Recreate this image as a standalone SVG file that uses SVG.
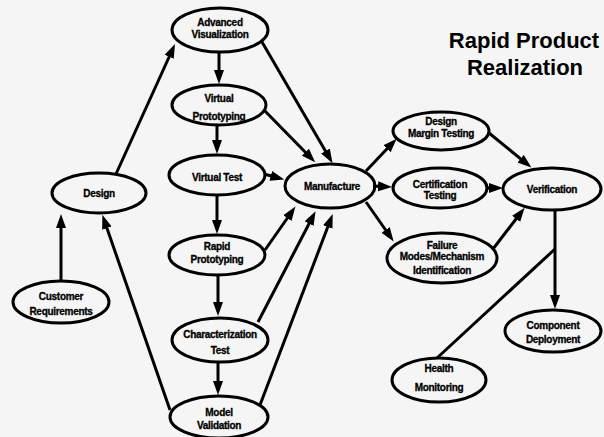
<svg xmlns="http://www.w3.org/2000/svg" width="604" height="437" viewBox="0 0 604 437">
<style>
.n ellipse{fill:none;stroke:#000;stroke-width:3}
.n text{font-family:"Liberation Sans",Arial,sans-serif;font-weight:bold;font-size:10px;text-anchor:middle;fill:#000;stroke:#000;stroke-width:0.3;letter-spacing:-0.3px}
.c line{stroke:#000;stroke-width:3;fill:none}
.c line.a{marker-end:url(#ah)}
.title{font-family:"Liberation Sans",Arial,sans-serif;font-weight:bold;font-size:22px;text-anchor:middle;fill:#000}
</style>
<defs>
<marker id="ah" markerUnits="userSpaceOnUse" markerWidth="16" markerHeight="11" refX="8" refY="5.5" orient="auto">
<path d="M0,0.5 L14,5.5 L0,10.5 z" fill="#000"/>
</marker>
</defs>
<rect width="604" height="437" fill="#f5f5f5"/>
<g class="c">
<line class="a" x1="116" y1="174" x2="172.5" y2="49.5"/>
<line class="a" x1="219" y1="52" x2="219" y2="78"/>
<line class="a" x1="262" y1="42" x2="329.5" y2="158"/>
<line class="a" x1="217" y1="125" x2="217" y2="148"/>
<line class="a" x1="264" y1="110" x2="311" y2="158"/>
<line class="a" x1="264" y1="174" x2="278.5" y2="178"/>
<line class="a" x1="217" y1="195" x2="217" y2="228"/>
<line class="a" x1="265" y1="250" x2="292" y2="211.5"/>
<line class="a" x1="218" y1="275" x2="218" y2="310"/>
<line class="a" x1="258" y1="322" x2="312.8" y2="216.5"/>
<line class="a" x1="218" y1="362" x2="218" y2="389"/>
<line class="a" x1="260" y1="405" x2="330.6" y2="219.5"/>
<line class="a" x1="170" y1="410" x2="104.3" y2="220.5"/>
<line class="a" x1="61" y1="281" x2="61" y2="220"/>
<line class="a" x1="366" y1="171" x2="392.5" y2="143"/>
<line class="a" x1="373" y1="186" x2="386" y2="186.7"/>
<line class="a" x1="366" y1="202" x2="390.2" y2="236.5"/>
<line class="a" x1="489" y1="133" x2="526.8" y2="163.8"/>
<line class="a" x1="487" y1="188" x2="497" y2="188"/>
<line class="a" x1="493" y1="249" x2="521" y2="212.5"/>
<line class="a" x1="555" y1="210" x2="555" y2="303"/>
<line x1="437" y1="358" x2="555" y2="249"/>
</g>
<g id="advanced-visualization" class="n"><ellipse cx="220" cy="30" rx="48" ry="22"/><text x="220" y="25.5">Advanced</text><text x="220" y="38">Visualization</text></g>
<g id="virtual-prototyping" class="n"><ellipse cx="219" cy="105" rx="47" ry="20"/><text x="219" y="102">Virtual</text><text x="219" y="120">Prototyping</text></g>
<g id="virtual-test" class="n"><ellipse cx="217" cy="175" rx="48" ry="20"/><text x="217" y="180.5">Virtual Test</text></g>
<g id="rapid-prototyping" class="n"><ellipse cx="217" cy="255" rx="48" ry="20"/><text x="217" y="249.5">Rapid</text><text x="217" y="262.5">Prototyping</text></g>
<g id="characterization-test" class="n"><ellipse cx="220" cy="340" rx="48" ry="22"/><text x="220" y="337.5">Characterization</text><text x="220" y="354">Test</text></g>
<g id="model-validation" class="n"><ellipse cx="219" cy="417" rx="49" ry="21"/><text x="219" y="415.5">Model</text><text x="219" y="429">Validation</text></g>
<g id="manufacture" class="n"><ellipse cx="330" cy="186" rx="45" ry="22"/><text x="332" y="189.5">Manufacture</text></g>
<g id="design" class="n"><ellipse cx="99" cy="193" rx="47" ry="20"/><text x="99" y="196.5">Design</text></g>
<g id="customer-requirements" class="n"><ellipse cx="61" cy="302" rx="48" ry="21"/><text x="61" y="299.5">Customer</text><text x="61" y="314.5">Requirements</text></g>
<g id="design-margin-testing" class="n"><ellipse cx="441" cy="131" rx="48" ry="19"/><text x="441" y="124.5">Design</text><text x="441" y="136.5">Margin Testing</text></g>
<g id="certification-testing" class="n"><ellipse cx="440" cy="188" rx="47" ry="20"/><text x="440" y="187.5">Certification</text><text x="440" y="198.5">Testing</text></g>
<g id="verification" class="n"><ellipse cx="552" cy="189" rx="49" ry="21"/><text x="552" y="192.5">Verification</text></g>
<g id="failure-modes" class="n"><ellipse cx="442" cy="258" rx="55" ry="25"/><text x="442" y="248.5">Failure</text><text x="442" y="259.5">Modes/Mechanism</text><text x="442" y="273.5">Identification</text></g>
<g id="component-deployment" class="n"><ellipse cx="553" cy="331" rx="48" ry="21"/><text x="553" y="328.5">Component</text><text x="553" y="342.5">Deployment</text></g>
<g id="health-monitoring" class="n"><ellipse cx="439" cy="380" rx="47" ry="22"/><text x="439" y="371.5">Health</text><text x="439" y="390.5">Monitoring</text></g>
<g id="title"><text class="title" x="524" y="48">Rapid Product</text><text class="title" x="525" y="75">Realization</text></g>
</svg>
